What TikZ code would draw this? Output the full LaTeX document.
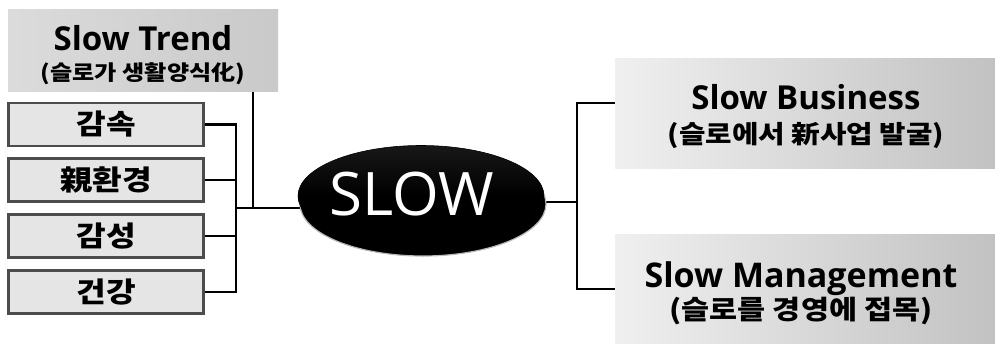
\documentclass[tikz,border=0pt]{standalone}
\usepackage{fontspec}
\setmainfont{Open Sans}
\newfontfamily\kr{Noto Sans CJK KR}[FakeStretch=1.15]
\usetikzlibrary{backgrounds,calc,shapes.geometric}
\pgfdeclareverticalshading{disctop}{100bp}{color(0bp)=(black); color(50bp)=(black); color(82bp)=(black!88); color(100bp)=(gray!75)}
\begin{document}
\begin{tikzpicture}[x=1pt,y=-1pt,
  conn/.style={line width=2.6pt, black},
  catbox/.style={draw=gray!60!black, line width=2.6pt, fill=gray!20, minimum width=195pt, minimum height=43pt, inner sep=0pt,
    font=\kr\bfseries\fontsize{28}{32}\selectfont},
  bigbox/.style={shading=axis, left color=gray!12, right color=gray!48, inner sep=0pt},
  boxtext/.style={align=center, inner sep=0pt, text=black},
]
\useasboundingbox (0,0) rectangle (995,343);

% boxes
\node[bigbox, left color=gray!28, right color=gray!42, minimum width=270pt, minimum height=82pt] (trend) at (143,50) {};
\node[boxtext, font=\bfseries\fontsize{33}{30}\selectfont] (trendtxt) at (143,55)
  {Slow Trend\\{\kr\bfseries\fontsize{21}{30}\selectfont (슬로가 생활양식化)}};

\node[catbox] (k1) at (106,124.5) {감속};
\node[catbox] (k2) at (106,180) {親환경};
\node[catbox] (k3) at (106,236) {감성};
\node[catbox] (k4) at (106,292) {건강};

\node[bigbox, minimum width=382pt, minimum height=110pt] (biz) at (806,113) {};
\node[boxtext, font=\bfseries\fontsize{33}{34}\selectfont] (biztxt) at (806,117)
  {Slow Business\\{\kr\bfseries\fontsize{25}{34}\selectfont (슬로에서 新사업 발굴)}};

\node[bigbox, minimum width=382pt, minimum height=110pt] (mgmt) at (806,289) {};
\node[boxtext, font=\bfseries\fontsize{34}{32}\selectfont] (mgmttxt) at (801,293)
  {Slow Management\\{\kr\bfseries\fontsize{26.5}{32}\selectfont (슬로를 경영에 접목)}};

% central disc
\fill[black, draw=gray!55, line width=1.2pt] (423,204) ellipse (123pt and 52pt);
\node[ellipse, shading=disctop, draw=black, line width=0.6pt, minimum width=246pt, minimum height=101pt, inner sep=0pt] (slow) at (421,196) {};
\node[text=white, inner sep=0pt, font=\fontsize{60}{60}\selectfont] (slowtxt) at (412,194) {SLOW};

% connectors
\coordinate (busL) at (236,208);
\coordinate (busR) at (577,202);
\begin{scope}[on background layer]
  \draw[conn] (k1.east) -| (busL);
  \draw[conn] (k2.east) -| (busL);
  \draw[conn] (k3.east) -| (busL);
  \draw[conn] (k4.east) -| (busL);
  \draw[conn, line width=2.2pt] ($(trend.south east)+(-25,0)$) |- (busL);
  \draw[conn] (busL) -- (busL -| slow.center);
  \draw[conn] (busR -| slow.center) -- (busR);
  \draw[conn] ($(biz.west)+(0,-10)$) -| (busR);
  \draw[conn] (mgmt.west) -| (busR);
\end{scope}
\end{tikzpicture}
\end{document}
